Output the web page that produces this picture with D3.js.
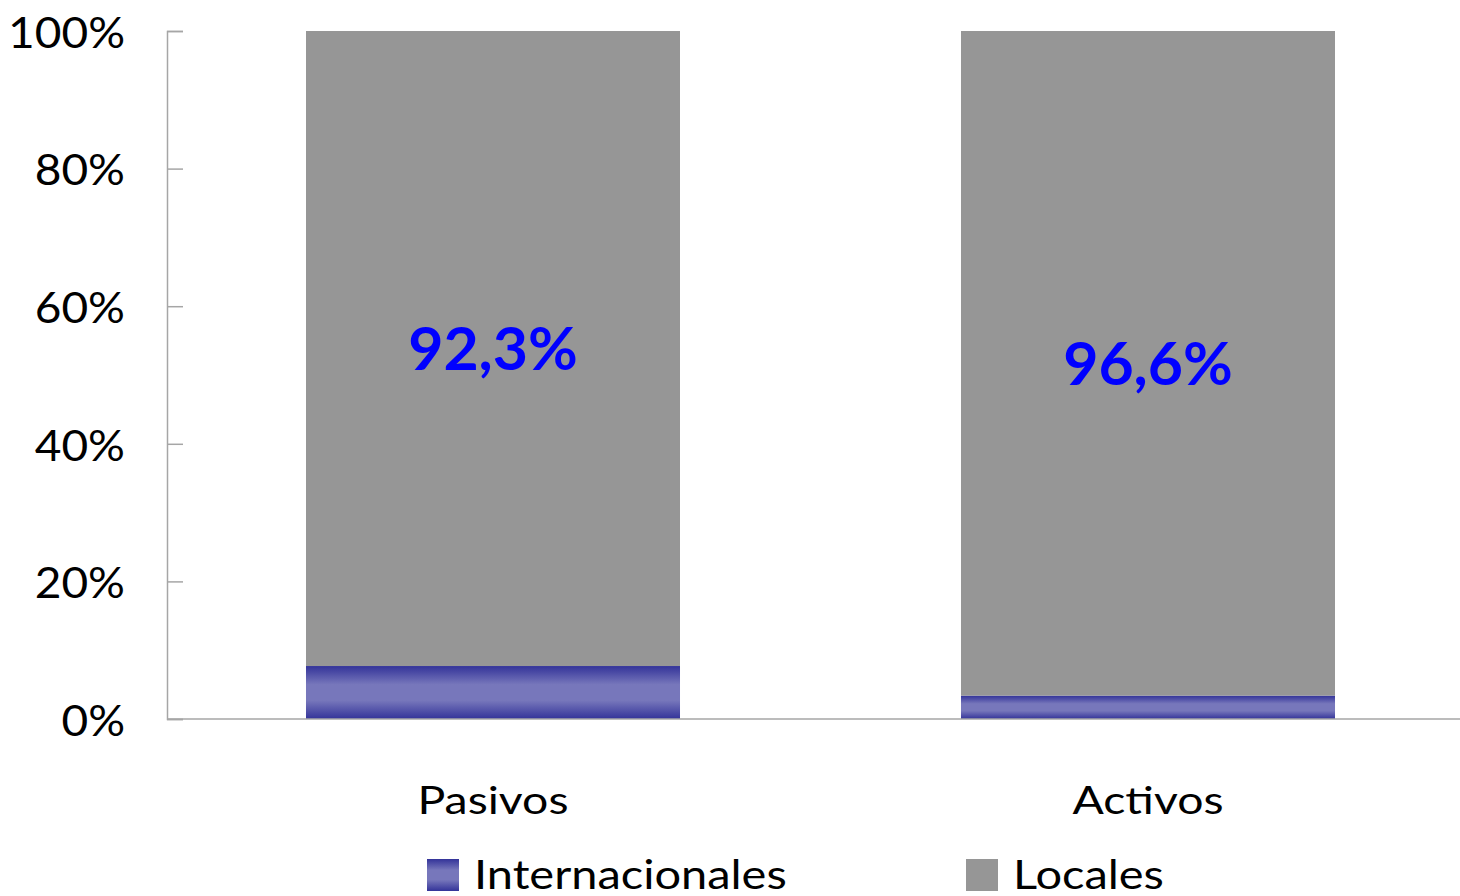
<!DOCTYPE html>
<html>
<head>
<meta charset="utf-8">
<script src="https://cdn.jsdelivr.net/npm/d3@7"></script>
<style>
html,body{margin:0;padding:0;background:#fff;}
svg{display:block;font-family:Lato, "Open Sans", sans-serif;}
</style>
</head>
<body>
<svg id="chart" width="1460" height="896"></svg>
<script>
const categories = ["Pasivos", "Activos"];
const internacionales = [0.077, 0.034];
const locales = [0.923, 0.966];
const localesLabels = ["92,3%", "96,6%"];
const yTicks = [0, 0.2, 0.4, 0.6, 0.8, 1.0];
const yTickLabels = ["0%", "20%", "40%", "60%", "80%", "100%"];
const seriesNames = ["Internacionales", "Locales"];

const svg = d3.select("#chart");
const W = 1460, H = 896;
const axisColor = "#a6a6a6";
const FONT = "Lato, 'Open Sans', sans-serif";

const defs = svg.append("defs");
const grad = defs.append("linearGradient").attr("id", "blueGrad")
  .attr("x1", 0).attr("y1", 0).attr("x2", 0).attr("y2", 1);
grad.append("stop").attr("offset", "0%").attr("stop-color", "#333399");
grad.append("stop").attr("offset", "35%").attr("stop-color", "#7777bb");
grad.append("stop").attr("offset", "65%").attr("stop-color", "#7777bb");
grad.append("stop").attr("offset", "100%").attr("stop-color", "#333399");

const y = d3.scaleLinear().domain([0, 1]).range([719, 31]);
const x = d3.scaleBand().domain(categories).range([165.5, 1475.5])
  .paddingInner(0.429).paddingOuter(0.2145);

const data = categories.map((c, i) => ({cat: c, inter: internacionales[i], loc: locales[i], label: localesLabels[i]}));

// bars
const g = svg.append("g");
g.selectAll("rect.inter").data(data).join("rect").attr("class", "inter")
  .attr("x", d => x(d.cat)).attr("width", x.bandwidth())
  .attr("y", d => y(d.inter)).attr("height", d => y(0) - y(d.inter))
  .attr("fill", "url(#blueGrad)");
g.selectAll("rect.loc").data(data).join("rect").attr("class", "loc")
  .attr("x", d => x(d.cat)).attr("width", x.bandwidth())
  .attr("y", d => y(d.inter + d.loc)).attr("height", d => y(d.inter) - y(d.inter + d.loc))
  .attr("fill", "#969696");

// data labels
g.selectAll("text.lab").data(data).join("text").attr("class", "lab")
  .attr("transform", d => `translate(${x(d.cat) + x.bandwidth() / 2},${(y(d.inter) + y(d.inter + d.loc)) / 2}) scale(1.03,1)`)
  .attr("dy", "0.36em")
  .attr("text-anchor", "middle")
  .attr("font-size", 59).attr("font-weight", "bold").attr("fill", "#0000ff")
  .text(d => d.label);

// y axis
const yAxis = d3.axisLeft(y).tickValues(yTicks)
  .tickFormat((d, i) => yTickLabels[i]).tickSize(-16).tickPadding(42);
const ya = svg.append("g").attr("transform", "translate(167,0)").call(yAxis);
ya.select(".domain").attr("stroke", axisColor).attr("stroke-width", 1.5);
ya.selectAll(".tick line").attr("stroke", axisColor).attr("stroke-width", 1.5);
ya.selectAll(".tick text").attr("font-size", 43).attr("fill", "#000")
  .attr("font-family", FONT)
  .attr("x", 0).attr("dy", "0.38em")
  .attr("transform", "translate(-42,0) scale(1.07,1)");

// x axis
const xAxis = d3.axisBottom(x).tickSize(0).tickPadding(0);
const xa = svg.append("g").attr("transform", "translate(0,719)").call(xAxis);
xa.select(".domain").remove();
xa.append("line").attr("x1", 167).attr("x2", W).attr("y1", 0).attr("y2", 0)
  .attr("stroke", axisColor).attr("stroke-width", 1.5);
xa.selectAll(".tick text").attr("font-size", 38).attr("fill", "#000")
  .attr("font-family", FONT)
  .attr("dy", null).attr("y", 0)
  .attr("transform", "translate(0,95) scale(1.22,1)");

// legend
const legendX = [427, 966];
const legendFill = ["url(#blueGrad)", "#969696"];
const leg = svg.append("g");
seriesNames.forEach((n, i) => {
  leg.append("rect").attr("x", legendX[i]).attr("y", 859).attr("width", 32).attr("height", 32)
    .attr("fill", legendFill[i]);
  leg.append("text").attr("transform", `translate(${legendX[i] + 47},889) scale(1.145,1)`)
    .attr("font-size", 41).attr("fill", "#000").text(n);
});
</script>
</body>
</html>
